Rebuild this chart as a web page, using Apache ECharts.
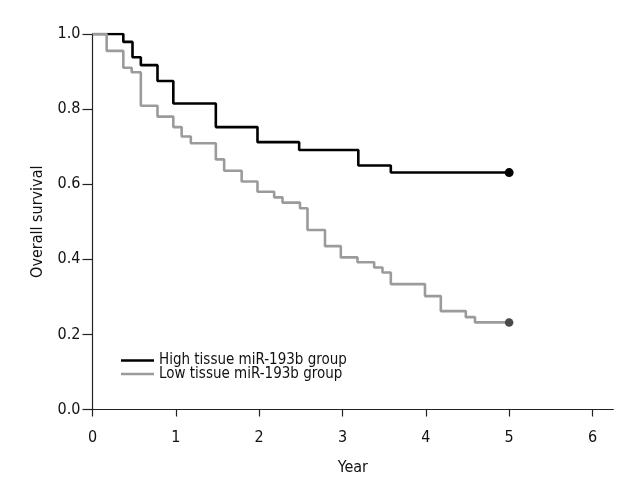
<!DOCTYPE html>
<html><head><meta charset="utf-8">
<script src="https://cdn.jsdelivr.net/npm/echarts@6/dist/echarts.min.js"></script>
<style>html,body{margin:0;padding:0;background:#fff}#c{width:640px;height:500px}</style>
</head><body><div id="c"></div>
<script>
const highName = 'High tissue miR-193b group';
const lowName = 'Low tissue miR-193b group';
const highTimes = [0, 0.37, 0.48, 0.58, 0.78, 0.97, 1.48, 1.98, 2.48, 3.19, 3.58, 5];
const highSurv  = [1, 0.979, 0.938, 0.917, 0.875, 0.815, 0.752, 0.712, 0.691, 0.650, 0.631, 0.631];
const lowTimes = [0, 0.17, 0.37, 0.47, 0.58, 0.78, 0.97, 1.07, 1.18, 1.48, 1.58, 1.79, 1.98, 2.18, 2.28, 2.49, 2.58, 2.79, 2.98, 3.18, 3.38, 3.48, 3.58, 3.99, 4.18, 4.48, 4.59, 5];
const lowSurv  = [1, 0.955, 0.910, 0.898, 0.809, 0.780, 0.752, 0.727, 0.709, 0.666, 0.636, 0.607, 0.580, 0.565, 0.551, 0.536, 0.478, 0.435, 0.405, 0.392, 0.378, 0.365, 0.334, 0.302, 0.262, 0.246, 0.232, 0.232];
const xTicks = [0, 1, 2, 3, 4, 5, 6];

const FONT = '"Liberation Sans Narrow", "DejaVu Sans Condensed", sans-serif';

function build(times, surv, dotColor, dotSize) {
  return times.map((t, i) => {
    if (i === times.length - 1) {
      return { value: [t, surv[i]], symbol: 'circle', symbolSize: dotSize, itemStyle: { color: dotColor } };
    }
    return { value: [t, surv[i]], symbol: 'none' };
  });
}

const chart = echarts.init(document.getElementById('c'), null, { renderer: 'canvas' });
chart.setOption({
  animation: false,
  grid: { left: 92.5, right: 26.7, top: 34, bottom: 90.5 },
  legend: {
    orient: 'vertical', left: 116, top: 348,
    itemWidth: 33, itemHeight: 2.5, itemGap: -1.5,
    textStyle: { fontFamily: FONT, fontSize: 15, color: '#111', lineHeight: 13 },
    data: [
      { name: highName, icon: 'rect', itemStyle: { color: '#000' } },
      { name: lowName, icon: 'rect', itemStyle: { color: '#9b9b9b' } }
    ]
  },
  xAxis: {
    type: 'value', min: 0, max: 6.25, interval: 1,
    name: 'Year', nameLocation: 'middle', nameGap: 50,
    nameTextStyle: { fontFamily: FONT, fontSize: 16, color: '#111' },
    axisLine: { lineStyle: { color: '#222', width: 1.2 } },
    axisTick: { show: true, inside: false, length: 7, lineStyle: { color: '#222', width: 1.2 }, customValues: xTicks },
    axisLabel: { fontFamily: FONT, fontSize: 16, color: '#111', margin: 20, customValues: xTicks },
    splitLine: { show: false }
  },
  yAxis: {
    type: 'value', min: 0, max: 1, interval: 0.2,
    name: 'Overall survival', nameLocation: 'middle', nameGap: 47, nameRotate: 90,
    nameTextStyle: { fontFamily: FONT, fontSize: 16, color: '#111' },
    axisLine: { show: true, lineStyle: { color: '#222', width: 1.2 } },
    axisTick: { show: true, length: 10, lineStyle: { color: '#222', width: 1.2 } },
    axisLabel: { fontFamily: FONT, fontSize: 16, color: '#111', margin: 12, formatter: v => v.toFixed(1) },
    splitLine: { show: false }
  },
  series: [
    {
      name: highName, type: 'line', step: 'end', showSymbol: true, symbol: 'none',
      lineStyle: { color: '#000', width: 2.6 }, itemStyle: { color: '#000' },
      data: build(highTimes, highSurv, '#000', 9), z: 2
    },
    {
      name: lowName, type: 'line', step: 'end', showSymbol: true, symbol: 'none',
      lineStyle: { color: '#9b9b9b', width: 2.6 }, itemStyle: { color: '#9b9b9b' },
      data: build(lowTimes, lowSurv, '#4a4a4a', 8.5), z: 3
    }
  ]
});
</script></body></html>
